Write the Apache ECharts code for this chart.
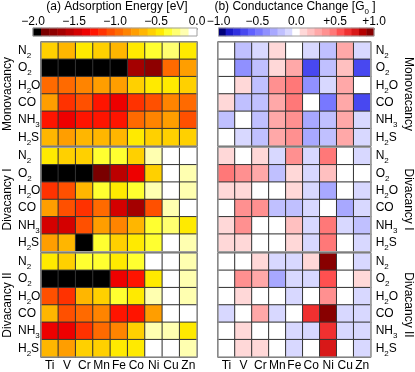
<!DOCTYPE html>
<html><head><meta charset="utf-8">
<script src="https://cdn.jsdelivr.net/npm/echarts@6/dist/echarts.min.js"></script>
<style>html,body{margin:0;padding:0;background:#fff}#c{width:415px;height:372px}</style>
</head><body><div id="c"></div>
<script>
const metals = ['Ti','V','Cr','Mn','Fe','Co','Ni','Cu','Zn'];
const molecules = ['N2','O2','H2O','CO','NH3','H2S'];
const groups = ['Monovacancy','Divacancy I','Divacancy II'];
const energyTicks = [-2.0,-1.5,-1.0,-0.5,0.0];
const condTicks = [-1.0,-0.5,0.0,0.5,1.0];

// (a) adsorption energy [eV], rows = molecules, cols = metals
const energyMono = [
  [-0.55,-0.65,-0.45,-0.55,-0.65,-0.42,-0.35,-0.25,-0.42],
  [-2.0,-2.0,-2.0,-2.0,-2.0,-1.65,-1.75,-0.95,-0.75],
  [-0.95,-0.95,-0.85,-0.75,-0.75,-0.55,-0.42,-0.42,-0.52],
  [-0.75,-1.15,-1.02,-1.25,-1.35,-1.15,-1.05,-0.85,-0.95],
  [-1.25,-1.32,-1.25,-1.25,-1.25,-0.95,-0.85,-0.75,-1.05],
  [-0.62,-0.75,-0.62,-0.62,-0.68,-0.42,-0.52,-0.52,-0.52]
];
const energyDiv1 = [
  [-0.42,-0.55,-0.55,-0.35,-0.38,-0.55,-0.15,-0.05,-0.05],
  [-2.0,-2.0,-2.0,-1.85,-1.55,-1.35,-0.55,-0.05,-0.15],
  [-1.15,-1.05,-0.65,-0.35,-0.42,-0.32,-0.15,-0.05,-0.15],
  [-0.75,-1.05,-1.15,-0.95,-1.45,-1.65,-1.02,-0.15,-0.05],
  [-1.45,-1.42,-1.05,-0.75,-0.85,-0.65,-0.35,-0.22,-0.42],
  [-0.75,-0.65,-2.0,-0.35,-0.52,-0.42,-0.32,-0.05,-0.15]
];
const energyDiv2 = [
  [-0.42,-0.55,-0.38,-0.38,-0.42,-0.32,-0.05,-0.05,-0.15],
  [-2.0,-2.0,-2.0,-2.0,-1.35,-1.25,-0.42,-0.05,-0.15],
  [-1.05,-1.15,-0.65,-0.55,-0.38,-0.42,-0.15,-0.05,-0.15],
  [-0.65,-1.02,-0.95,-0.85,-1.28,-1.22,-0.75,-0.05,-0.05],
  [-1.32,-1.35,-1.15,-0.98,-0.85,-0.55,-0.15,-0.12,-0.42],
  [-0.62,-0.75,-0.55,-0.52,-0.42,-0.42,-0.05,-0.05,-0.15]
];
// (b) conductance change [G0]
const condMono = [
  [0,-0.19,-0.1,0.1,0,-0.1,-0.2,0.3,-0.1],
  [0,-0.38,-0.2,0.1,0.3,-0.67,-0.2,0.2,-0.62],
  [0,0.1,-0.2,0.38,0.45,-0.38,-0.1,0.3,0],
  [0.1,-0.2,-0.19,0.29,0.48,0,-0.48,0.3,-0.7],
  [-0.19,0,-0.2,0.3,0.4,-0.3,-0.2,0.3,-0.1],
  [0,-0.1,-0.2,0.3,0.4,-0.3,-0.2,0.3,-0.1]
];
const condDiv1 = [
  [0.1,0,0.1,-0.1,0.4,-0.1,0.48,0,-0.1],
  [0.48,0.4,0.29,-0.19,0.1,-0.1,0.2,0,0],
  [0.1,0.1,0,0,0.1,-0.1,-0.25,0,-0.1],
  [0,0.4,0.4,-0.15,-0.15,-0.1,0,-0.25,-0.1],
  [0.1,0.4,0,0,0.2,-0.1,0.48,-0.1,-0.15],
  [0.1,0.1,0,0,0.1,-0.1,0.48,0,-0.1]
];
const condDiv2 = [
  [0,0,0.1,-0.1,-0.1,0.1,0.95,0,-0.1],
  [0,0.4,0.29,-0.25,-0.1,-0.1,0.6,0,0.1],
  [0,0.1,0,0,-0.1,0,0.4,0,-0.1],
  [-0.1,0,0.29,-0.1,0,0.7,0.95,-0.1,-0.1],
  [0,0.1,0,0,-0.1,-0.1,0.7,-0.1,-0.1],
  [0,0.1,0.1,0,-0.1,0,0.8,0,-0.1]
];

const energyColors = ['#000000','#7a0000','#8e0000','#a40000','#bc0000','#d40000','#ee0000','#ff1400','#ff3200','#ff5000',
  '#ff6a00','#ff8400','#ff9e00','#ffb600','#ffd000','#ffea00','#ffff30','#ffff70','#ffffb0','#ffffff'];
const condColors = ['#00007a','#1a1ac8','#3030e0','#4848f0','#6060ff','#7878ff','#9090ff','#a8a8ff','#c0c0ff','#d8d8ff','#ffffff',
  '#ffd8d8','#ffc0c0','#ffa8a8','#ff9090','#ff7878','#ff5050','#f03030','#d81818','#b40000','#880000'];

const FONT = 'Liberation Sans';
function pieces(colors, lo, hi) {
  const n = colors.length, w = (hi - lo) / n;
  return colors.map((c, i) => {
    const p = {color: c};
    if (i > 0) p.gte = lo + i * w;
    if (i < n - 1) p.lt = lo + (i + 1) * w;
    return p;
  });
}
function barData(colors, lo, hi) {
  const n = colors.length, w = (hi - lo) / n;
  return colors.map((c, i) => [i, 0, lo + (i + 0.5) * w]);
}
function cells(m) {
  const d = [];
  m.forEach((row, r) => row.forEach((v, c) => d.push([c, r, v])));
  return d;
}
const molRich = {N2:'{n|N}{s|2}', O2:'{n|O}{s|2}', H2O:'{n|H}{s|2}{n|O}', CO:'{n|CO}', NH3:'{n|NH}{s|3}', H2S:'{n|H}{s|2}{n|S}'};
const rich = {n:{fontSize:12, lineHeight:18, color:'#000', fontFamily:FONT}, s:{fontSize:8, lineHeight:10, verticalAlign:'bottom', color:'#000', fontFamily:FONT}};

const blockTops = [42, 147.5, 253];
const blockH = 104;
const sides = [{left:41, data:[energyMono, energyDiv1, energyDiv2]}, {left:218, data:[condMono, condDiv1, condDiv2]}];
const grids = [], xAxes = [], yAxes = [], series = [];
sides.forEach((s, si) => {
  s.data.forEach((m, b) => {
    const gi = grids.length;
    grids.push({left:s.left, top:blockTops[b], width:156, height:blockH, show:true, borderColor:'#a0a0a0', borderWidth:1.2, z:5, backgroundColor:'transparent'});
    xAxes.push({type:'category', gridIndex:gi, data:metals, position:'bottom',
      axisLine:{show:false}, axisTick:{show:false}, splitLine:{show:false},
      axisLabel:{show:b===2, interval:0, margin:3, fontSize:12, color:'#000', fontFamily:FONT}});
    yAxes.push({type:'category', gridIndex:gi, data:molecules, inverse:true, position: si===0?'left':'right',
      axisLine:{show:false}, axisTick:{show:false}, splitLine:{show:false},
      axisLabel:{interval:0, margin: si===0?23:5, align:'left', formatter: v => molRich[v], rich: rich},
      name: groups[b], nameLocation:'middle', nameGap: si===0?27:26, nameRotate: si===0?90:-90,
      nameTextStyle:{fontSize:12, color:'#000', fontFamily:FONT}});
    series.push({type:'heatmap', xAxisIndex:gi, yAxisIndex:gi, data:cells(m),
      itemStyle:{borderColor:'#333', borderWidth:1}, emphasis:{disabled:true}, silent:true});
  });
});
// colorbars
const bars = [
  {left:33, width:164, colors:energyColors, lo:-2, hi:0, fmt:v => (v<0?'\u2212':'') + Math.abs(v).toFixed(1), ticks:energyTicks},
  {left:218.5, width:155.5, colors:condColors, lo:-1, hi:1, fmt:v => (v<0?'\u2212':(v>0?'+':'')) + Math.abs(v).toFixed(1), ticks:condTicks}
];
bars.forEach((bar, k) => {
  const gi = grids.length;
  grids.push({left:bar.left, top:28, width:bar.width, height:8, show:true, borderColor:'#a0a0a0', borderWidth:1, z:5, backgroundColor:'transparent'});
  const xi = xAxes.length;
  xAxes.push({type:'category', gridIndex:gi, data:bar.colors.map((c,i)=>i), show:false});
  xAxes.push({type:'value', gridIndex:gi, position:'top', min:bar.ticks[0], max:bar.ticks[bar.ticks.length-1],
    interval:bar.ticks[1]-bar.ticks[0], axisLine:{show:false}, splitLine:{show:false},
    axisTick:{show:true, inside:true, length:2, lineStyle:{color:'#a0a0a0'}},
    axisLabel:{margin:0, fontSize:12, color:'#000', fontFamily:FONT, formatter:bar.fmt}});
  yAxes.push({type:'category', gridIndex:gi, data:['c'], show:false});
  series.push({type:'heatmap', xAxisIndex:xi, yAxisIndex:gi, data:barData(bar.colors, bar.lo, bar.hi),
    itemStyle:{borderWidth:0}, emphasis:{disabled:true}, silent:true});
});

const chart = echarts.init(document.getElementById('c'), null, {renderer:'canvas'});
chart.setOption({
  animation:false,
  backgroundColor:'#fff',
  textStyle:{fontFamily:FONT},
  title:[
    {text:'(a) Adsorption Energy [eV]', left:117, top:1, padding:0, textAlign:'center', textStyle:{fontSize:12, fontWeight:'normal', color:'#000', fontFamily:FONT}},
    {text:'{t|(b) Conductance Change [G}{s|0}{t| ]}', left:295, top:-2, padding:0, textAlign:'center',
      textStyle:{fontWeight:'normal', rich:{t:{fontSize:12, fontWeight:'normal', lineHeight:18, color:'#000', fontFamily:FONT}, s:{fontSize:8, fontWeight:'normal', lineHeight:10, verticalAlign:'bottom', color:'#000', fontFamily:FONT}}}}
  ],
  grid:grids, xAxis:xAxes, yAxis:yAxes,
  visualMap:[
    {type:'piecewise', show:false, seriesIndex:[0,1,2,6], pieces:pieces(energyColors,-2,0)},
    {type:'piecewise', show:false, seriesIndex:[3,4,5,7], pieces:pieces(condColors,-1,1)}
  ],
  series:series
});
</script></body></html>
